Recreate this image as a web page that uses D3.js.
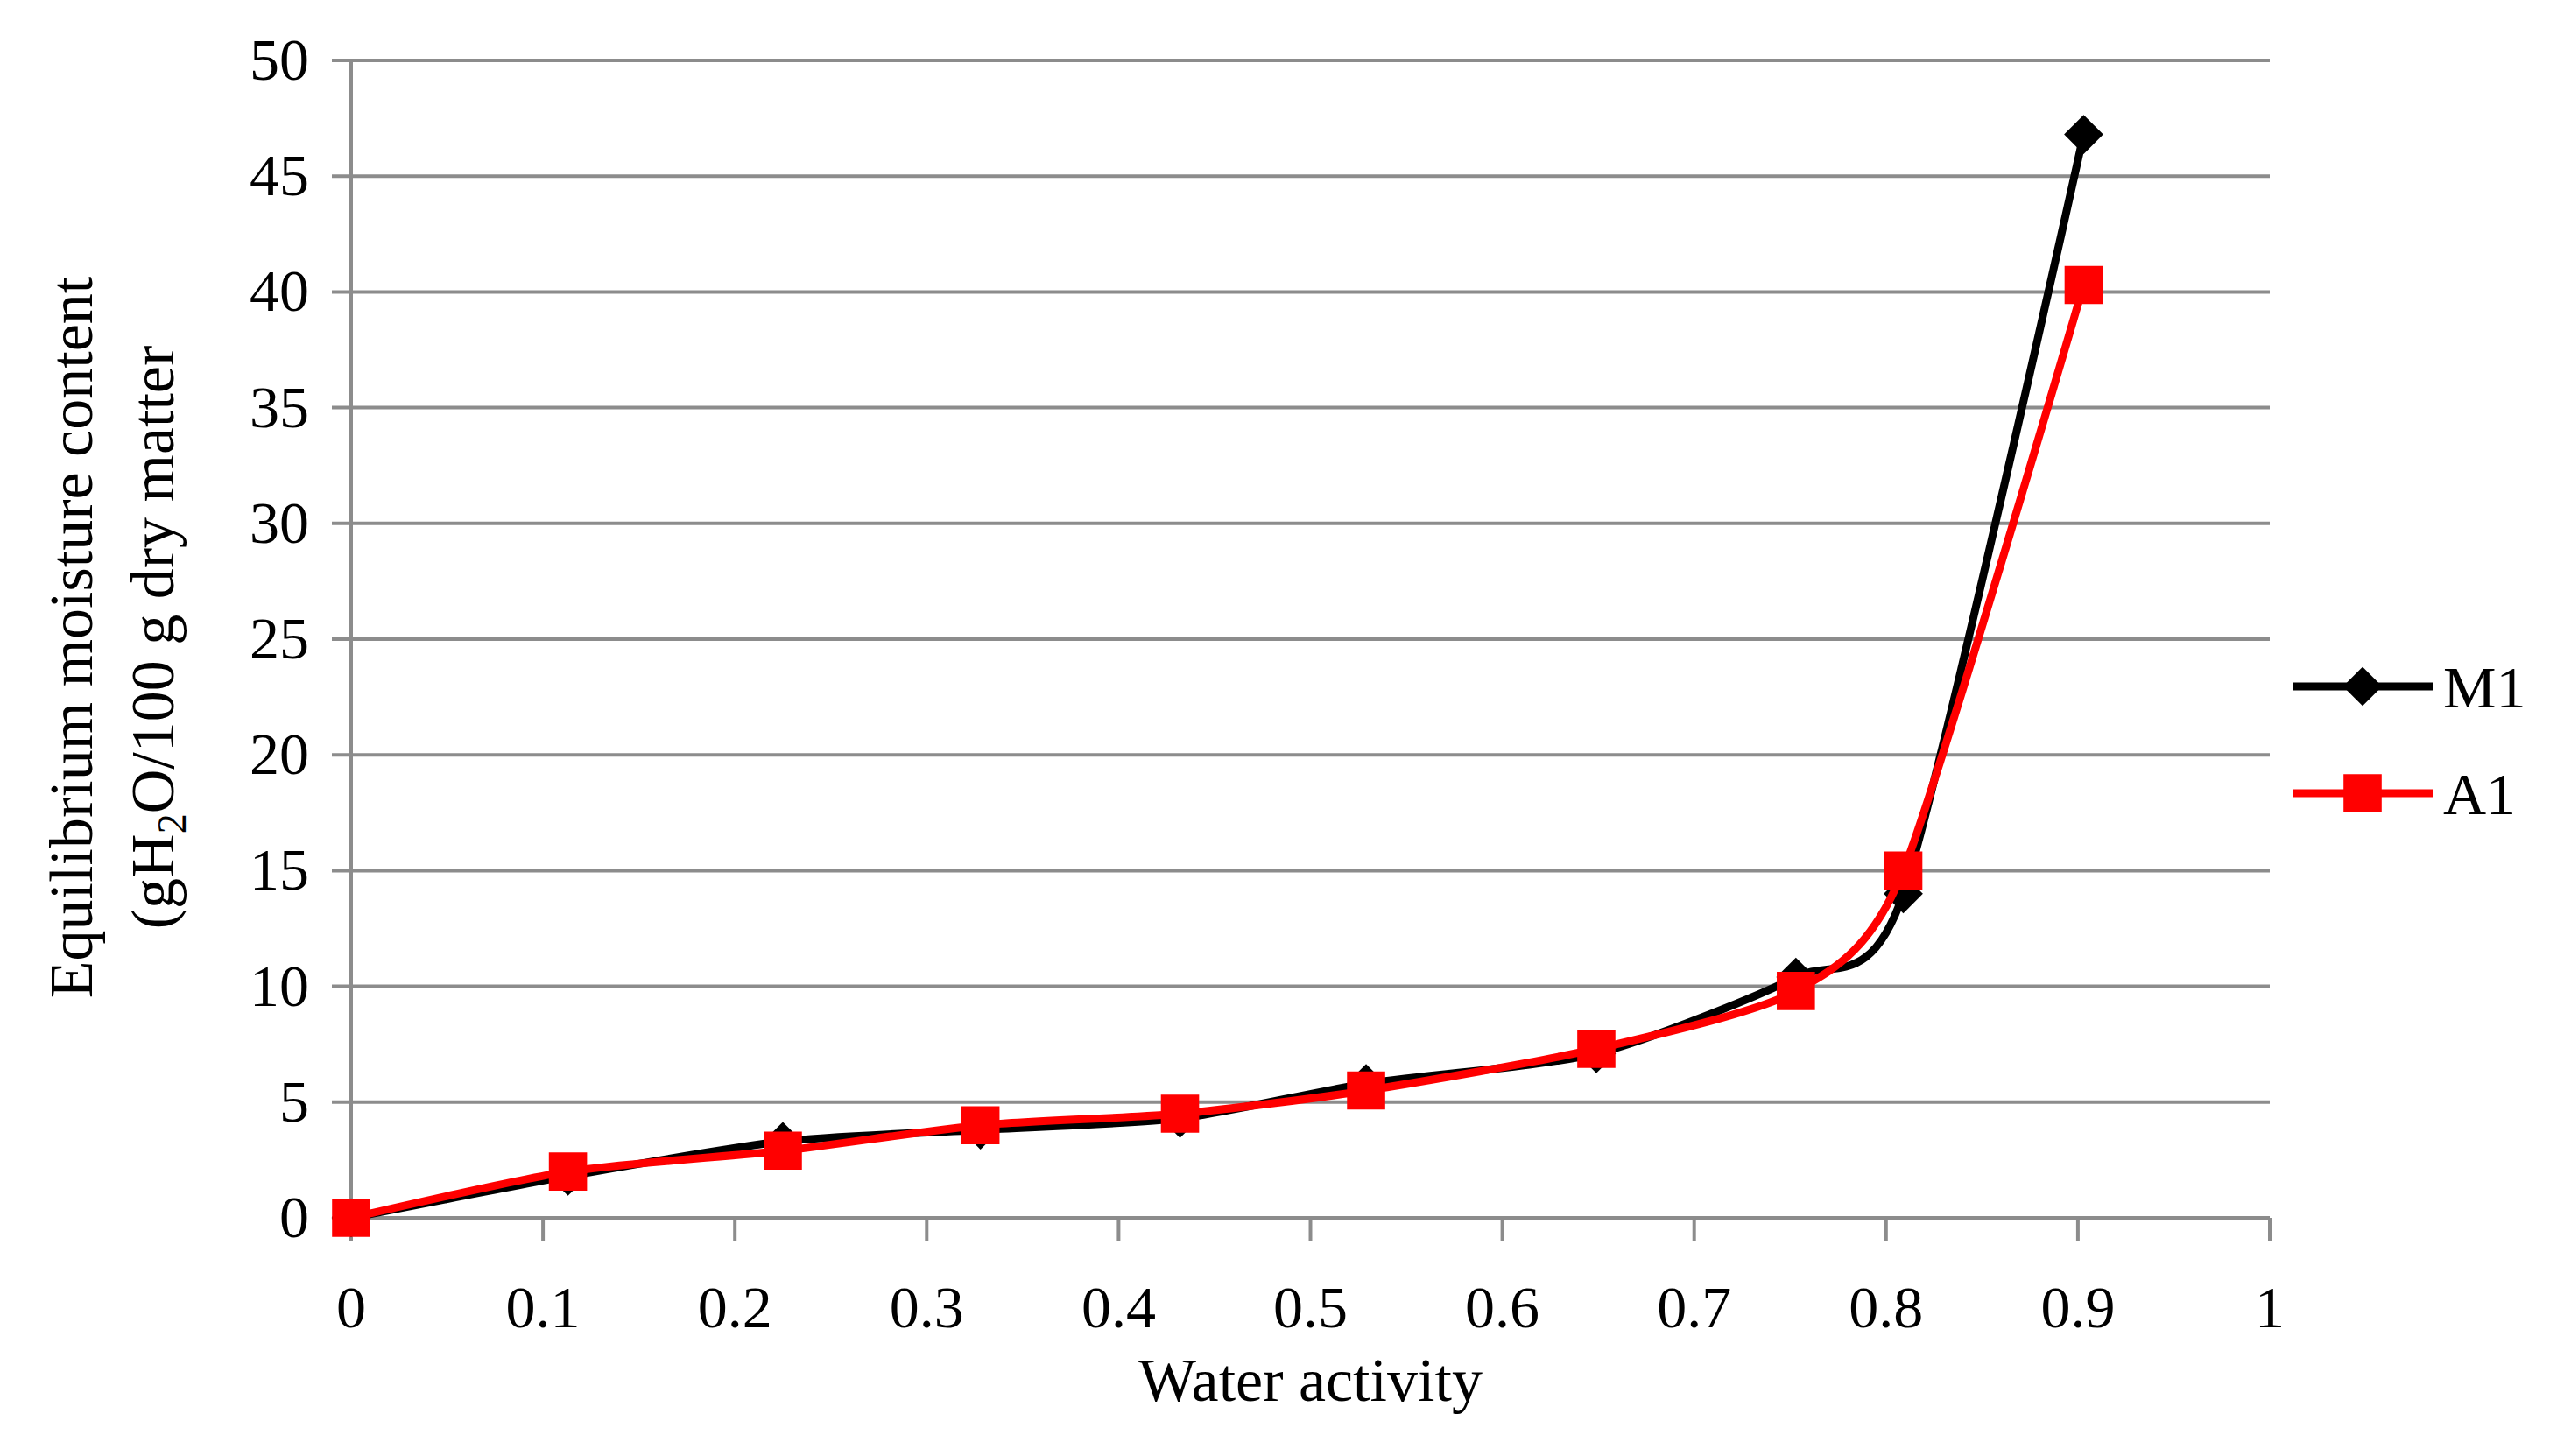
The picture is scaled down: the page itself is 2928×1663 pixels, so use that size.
<!DOCTYPE html>
<html><head><meta charset="utf-8">
<script src="https://cdn.jsdelivr.net/npm/d3@7"></script>
<style>body{margin:0;background:#fff}text{font-family:"Liberation Serif","DejaVu Serif",serif;fill:#000}</style>
</head><body><div id="chart"></div>
<script>
// data
const waterActivity = [0, 0.113, 0.225, 0.328, 0.432, 0.529, 0.649, 0.753, 0.809, 0.903]
const m1 = [0, 1.8, 3.3, 3.8, 4.3, 5.8, 7.1, 10.4, 14.0, 46.8]
const a1 = [0, 2.0, 2.9, 4.0, 4.5, 5.5, 7.3, 9.8, 15.0, 40.3]
const xTicks = [0, 0.1, 0.2, 0.3, 0.4, 0.5, 0.6, 0.7, 0.8, 0.9, 1]
const yTicks = [0, 5, 10, 15, 20, 25, 30, 35, 40, 45, 50]

const width = 2928, height = 1663
const margin = { left: 401, right: 336, top: 69, bottom: 272 }
const svg = d3.select('#chart').append('svg').attr('width', width).attr('height', height)
const x = d3.scaleLinear().domain([0, 1]).range([margin.left, width - margin.right])
const y = d3.scaleLinear().domain([0, 50]).range([height - margin.bottom, margin.top])
const grey = '#8c8c8c'

svg.append('g').selectAll('line').data(yTicks).join('line')
  .attr('x1', x(0) - 22).attr('x2', x(1)).attr('y1', d => y(d)).attr('y2', d => y(d))
  .attr('stroke', grey).attr('stroke-width', 4)
svg.append('line').attr('x1', x(0)).attr('x2', x(0)).attr('y1', y(0) + 26).attr('y2', y(50))
  .attr('stroke', grey).attr('stroke-width', 4)
svg.append('g').selectAll('line').data(xTicks.slice(1)).join('line')
  .attr('x1', d => x(d)).attr('x2', d => x(d)).attr('y1', y(0)).attr('y2', y(0) + 26)
  .attr('stroke', grey).attr('stroke-width', 4)

svg.append('g').selectAll('text').data(yTicks).join('text')
  .attr('x', x(0) - 48).attr('y', d => y(d) + 22).attr('text-anchor', 'end')
  .attr('font-size', 68).text(d => d)
svg.append('g').selectAll('text').data(xTicks).join('text')
  .attr('x', d => x(d)).attr('y', y(0) + 125).attr('text-anchor', 'middle')
  .attr('font-size', 68).text(d => d)
svg.append('text').attr('x', (x(0) + x(1)) / 2).attr('y', 1600).attr('text-anchor', 'middle')
  .attr('font-size', 70).text('Water activity')

const yt = svg.append('g').attr('transform', 'translate(0,728) rotate(-90)')
yt.append('text').attr('x', 0).attr('y', 105).attr('text-anchor', 'middle').attr('font-size', 70)
  .text('Equilibrium moisture content')
const l2 = yt.append('text').attr('x', 0).attr('y', 198).attr('text-anchor', 'middle').attr('font-size', 70)
l2.append('tspan').text('(gH')
l2.append('tspan').attr('font-size', 46).attr('dy', 14).text('2')
l2.append('tspan').attr('dy', -14).text('O/100 g dry matter')

const line = d3.line().x(d => x(d[0])).y(d => y(d[1])).curve(d3.curveCardinal.tension(0.3))
const series = [
  { name: 'M1', values: m1, color: '#000', shape: d3.symbolSquare, size: 1000, rot: 45 },
  { name: 'A1', values: a1, color: '#ff0000', shape: d3.symbolSquare, size: 1900, rot: 0 }
]
series.forEach((s, i) => {
  const pts = waterActivity.map((w, j) => [w, s.values[j]])
  svg.append('path').datum(pts).attr('d', line).attr('fill', 'none')
    .attr('stroke', s.color).attr('stroke-width', 9)
  svg.append('g').selectAll('path').data(pts).join('path')
    .attr('transform', d => `translate(${x(d[0])},${y(d[1])}) rotate(${s.rot})`)
    .attr('d', d3.symbol(s.shape, s.size)).attr('fill', s.color)
  const ly = 784 + i * 122
  svg.append('line').attr('x1', 2618).attr('x2', 2778).attr('y1', ly).attr('y2', ly)
    .attr('stroke', s.color).attr('stroke-width', 9)
  svg.append('path').attr('transform', `translate(2698,${ly}) rotate(${s.rot})`)
    .attr('d', d3.symbol(s.shape, s.size)).attr('fill', s.color)
  svg.append('text').attr('x', 2790).attr('y', ly + 24).attr('font-size', 68).text(s.name)
})
</script></body></html>
